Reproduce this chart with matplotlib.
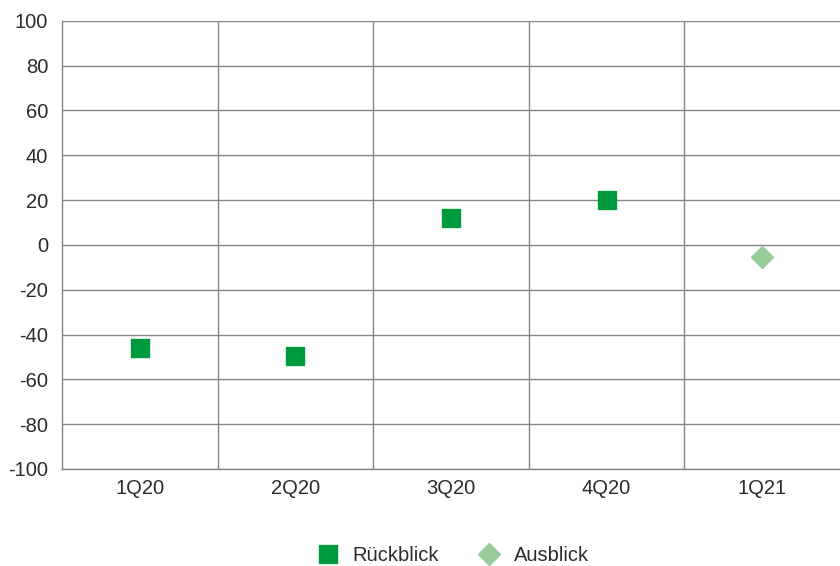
import matplotlib
matplotlib.use("Agg")
import matplotlib.pyplot as plt

plt.rcParams['font.family'] = ['Liberation Sans', 'DejaVu Sans']

quarters = ["1Q20", "2Q20", "3Q20", "4Q20", "1Q21"]
rueckblick = [-46.2, -49.4, 11.9, 19.9]
ausblick = [-5.3]
yticks = [100, 80, 60, 40, 20, 0, -20, -40, -60, -80, -100]

green = "#009a3e"
light_green = "#98cc9b"
grid_col = "#858585"
text_col = "#2b2b2b"

fig = plt.figure(figsize=(8.40, 5.66), dpi=100)
ax = fig.add_axes([62 / 840, 1 - 469 / 566, 1 - 62 / 840, (469 - 20.7) / 566])

x_back = list(range(len(rueckblick)))
x_out = list(range(len(rueckblick), len(quarters)))

ax.plot(x_back, rueckblick, linestyle="none", marker="s", markersize=12.5,
        color=green, label="Rückblick", zorder=3)
ax.plot(x_out, ausblick, linestyle="none", marker="D", markersize=11,
        color=light_green, label="Ausblick", zorder=3)

ax.set_xlim(-0.5, len(quarters) - 0.5)
ax.set_ylim(-100, 100)
ax.set_yticks(yticks)
ax.set_yticklabels([str(v) for v in yticks])
ax.set_xticks(range(len(quarters)))
ax.set_xticklabels(quarters)

# horizontal grid at each y tick, vertical separators between quarters
for v in yticks:
    ax.axhline(v, color=grid_col, lw=1.0, zorder=1)
for b in range(len(quarters) - 1):
    ax.axvline(b + 0.5, color=grid_col, lw=1.0, zorder=1)

for side in ["top", "right"]:
    ax.spines[side].set_visible(False)
for side in ["left", "bottom"]:
    ax.spines[side].set_color(grid_col)
    ax.spines[side].set_linewidth(1.0)

ax.tick_params(axis="both", length=0, labelsize=14.5, colors=text_col)
ax.tick_params(axis="y", pad=10)
ax.tick_params(axis="x", pad=7)

fig.legend(loc="center", bbox_to_anchor=(0.54, 0.019), ncol=2, frameon=False,
           fontsize=14.5, labelcolor=text_col, handletextpad=0.7,
           columnspacing=2.0, handlelength=1.0)

fig.savefig("out.png", dpi=100)
